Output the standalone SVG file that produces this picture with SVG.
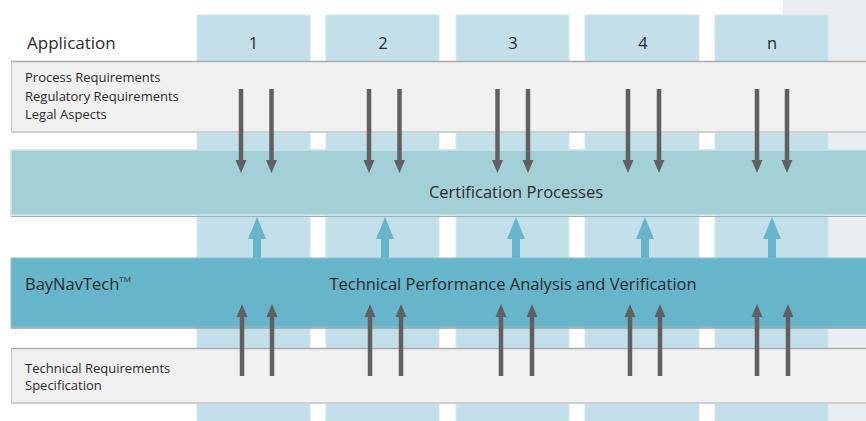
<svg xmlns="http://www.w3.org/2000/svg" width="866" height="421" viewBox="0 0 866 421">
<style>
text{font-family:"Open Sans","Noto Sans","Liberation Sans",sans-serif;fill:#2b2b2b}
.col{fill:#c3e0ea;stroke:#d4e6ed;stroke-width:1}
.lbl{font-size:16.5px;text-anchor:middle}
.small{font-size:13px}
.big{font-size:16.5px}
.gray{fill:#f0f0f0}
.gline{stroke:#ababab;stroke-width:1.5}
.gshadow{stroke:#cfcfcf;stroke-width:2}
.arr{stroke:#606060;stroke-width:4.5;fill:none}
.barr{stroke:#67b5ca;stroke-width:8;fill:none}
</style>
<defs>
<marker id="ah" markerUnits="userSpaceOnUse" markerWidth="13" markerHeight="12" refX="0" refY="6" orient="auto" viewBox="0 0 13 12">
<path d="M0,0.5 L13,6 L0,11.5 z" fill="#606060"/>
</marker>
<marker id="bh" markerUnits="userSpaceOnUse" markerWidth="22" markerHeight="18" refX="0" refY="9" orient="auto" viewBox="0 0 22 18">
<path d="M0,0 L22,9 L0,18 z" fill="#67b5ca"/>
</marker>
</defs>
<rect width="866" height="421" fill="#ffffff"/>
<polygon points="783,0 866,0 866,421 770,421" fill="#e8eef2"/>
<g id="columns">
<g id="app-1"><rect class="col" x="197" y="15" width="113" height="410"/><text class="lbl" x="253.5" y="49">1</text></g>
<g id="app-2"><rect class="col" x="326" y="15" width="113" height="410"/><text class="lbl" x="383" y="49">2</text></g>
<g id="app-3"><rect class="col" x="456" y="15" width="113" height="410"/><text class="lbl" x="513" y="49">3</text></g>
<g id="app-4"><rect class="col" x="585" y="15" width="114" height="410"/><text class="lbl" x="643" y="49">4</text></g>
<g id="app-n"><rect class="col" x="715" y="15" width="113" height="410"/><text class="lbl" x="772" y="49">n</text></g>
</g>
<g id="application-label"><text x="27" y="49" style="font-size:17px">Application</text></g>
<g id="requirements">
<rect x="11" y="62" width="860" height="69" class="gray"/>
<line x1="11" y1="61.5" x2="866" y2="61.5" class="gline"/>
<line x1="11" y1="132" x2="866" y2="132" class="gshadow"/>
<line x1="11.5" y1="62" x2="11.5" y2="131" stroke="#c8c8c8"/>
<text class="small" x="25" y="82">Process Requirements</text>
<text class="small" x="25" y="100.5">Regulatory Requirements</text>
<text class="small" x="25" y="119">Legal Aspects</text>
</g>
<g id="certification">
<rect x="11" y="150" width="860" height="65" fill="#a2d0d6" stroke="#c8e4e8" stroke-width="1.5"/>
<line x1="11" y1="216.5" x2="866" y2="216.5" stroke="#9ab2b6" stroke-width="1"/>
<text class="big" x="516" y="198" text-anchor="middle">Certification Processes</text>
</g>
<g id="baynavtech">
<rect x="11" y="258" width="860" height="69" fill="#67b5ca" stroke="#86c4d4" stroke-width="1"/>
<line x1="11" y1="328" x2="866" y2="328" stroke="#8ba4ab" stroke-width="1.5"/>
<text x="25" y="290" style="font-size:16.5px">BayNavTech<tspan dy="-8" style="font-size:8px">TM</tspan></text>
<text class="big" x="513" y="290" text-anchor="middle">Technical Performance Analysis and Verification</text>
</g>
<g id="technical-requirements">
<rect x="11" y="349" width="860" height="53" class="gray"/>
<line x1="11" y1="348.5" x2="866" y2="348.5" class="gline"/>
<line x1="11" y1="403" x2="866" y2="403" class="gshadow"/>
<line x1="11.5" y1="349" x2="11.5" y2="402" stroke="#c8c8c8"/>
<text class="small" x="25" y="373">Technical Requirements</text>
<text class="small" x="25" y="390">Specification</text>
</g>
<g id="connectors">
<g class="down">
<line class="arr" x1="241" y1="89" x2="241" y2="160" marker-end="url(#ah)"/>
<line class="arr" x1="271.5" y1="89" x2="271.5" y2="160" marker-end="url(#ah)"/>
<line class="arr" x1="369" y1="89" x2="369" y2="160" marker-end="url(#ah)"/>
<line class="arr" x1="399.5" y1="89" x2="399.5" y2="160" marker-end="url(#ah)"/>
<line class="arr" x1="497.5" y1="89" x2="497.5" y2="160" marker-end="url(#ah)"/>
<line class="arr" x1="528" y1="89" x2="528" y2="160" marker-end="url(#ah)"/>
<line class="arr" x1="628" y1="89" x2="628" y2="160" marker-end="url(#ah)"/>
<line class="arr" x1="659" y1="89" x2="659" y2="160" marker-end="url(#ah)"/>
<line class="arr" x1="757" y1="89" x2="757" y2="160" marker-end="url(#ah)"/>
<line class="arr" x1="787" y1="89" x2="787" y2="160" marker-end="url(#ah)"/>
</g>
<g class="up-blue">
<line class="barr" x1="257" y1="258" x2="257" y2="239" marker-end="url(#bh)"/>
<line class="barr" x1="385" y1="258" x2="385" y2="239" marker-end="url(#bh)"/>
<line class="barr" x1="516" y1="258" x2="516" y2="239" marker-end="url(#bh)"/>
<line class="barr" x1="645" y1="258" x2="645" y2="239" marker-end="url(#bh)"/>
<line class="barr" x1="772" y1="258" x2="772" y2="239" marker-end="url(#bh)"/>
</g>
<g class="up">
<line class="arr" x1="242" y1="376" x2="242" y2="317" marker-end="url(#ah)"/>
<line class="arr" x1="272" y1="376" x2="272" y2="317" marker-end="url(#ah)"/>
<line class="arr" x1="370" y1="376" x2="370" y2="317" marker-end="url(#ah)"/>
<line class="arr" x1="401" y1="376" x2="401" y2="317" marker-end="url(#ah)"/>
<line class="arr" x1="501" y1="376" x2="501" y2="317" marker-end="url(#ah)"/>
<line class="arr" x1="532" y1="376" x2="532" y2="317" marker-end="url(#ah)"/>
<line class="arr" x1="630" y1="376" x2="630" y2="317" marker-end="url(#ah)"/>
<line class="arr" x1="660" y1="376" x2="660" y2="317" marker-end="url(#ah)"/>
<line class="arr" x1="757" y1="376" x2="757" y2="317" marker-end="url(#ah)"/>
<line class="arr" x1="788" y1="376" x2="788" y2="317" marker-end="url(#ah)"/>
</g>
</g>
</svg>
